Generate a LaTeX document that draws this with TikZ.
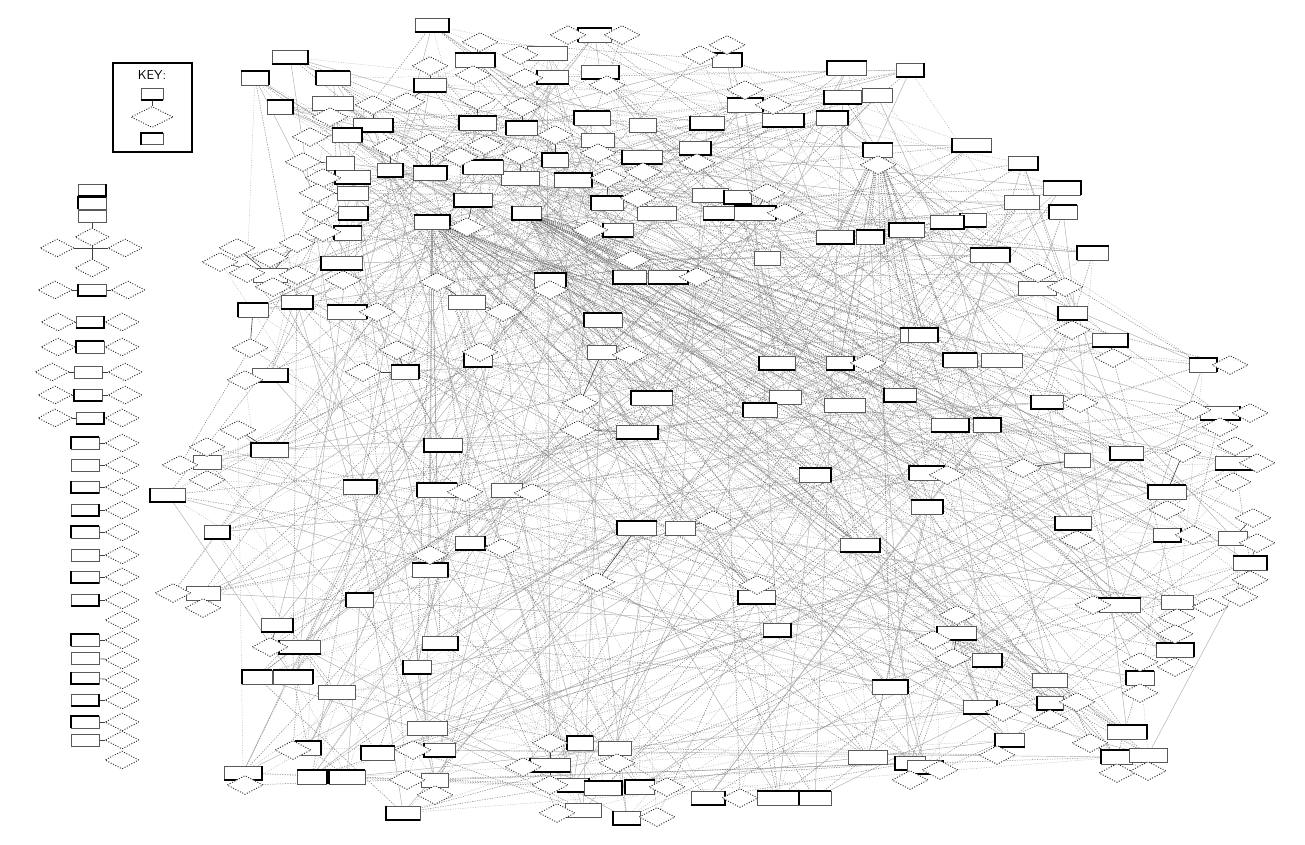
\documentclass[tikz,border=0pt]{standalone}
\usetikzlibrary{shapes.geometric}
\pgfdeclarelayer{bottom}
\pgfdeclarelayer{background}
\pgfsetlayers{bottom,background,main}
\begin{document}
\def\Blist{432/25, 475/60, 522/128, 520/178, 527/213, 290/57, 255/78, 333/78, 333/103, 430/85,
373/125, 347/135, 478/123, 340/163, 353/177, 390/170, 430/173, 483/167, 353/193, 473/200,
353/213, 432/222, 348/233, 270/275, 342/263, 297/302, 347/312, 253/310, 467/302, 478/360,
270/375, 280/107, 595/35, 547/53, 553/77, 600/72, 727/60, 592/118, 643/125, 707/123,
783/120, 832/118, 847/68, 877/95, 843/97, 910/70, 745/105, 555/160, 598/140, 642/157,
695/148, 573/180, 878/150, 710/195, 738/197, 720/213, 755/213, 607/203, 657/213, 618/230,
835/237, 870/237, 907/230, 767/258, 630/277, 668/277, 550/280, 603/320, 602/352, 777/363,
840/363, 917/335, 652/398, 785/397, 972/145, 1023/163, 1062/188, 1063/212, 1022/202, 973/220,
947/222, 990/255, 1093/253, 1037/288, 1073/313, 1110/340, 1203/365, 960/360, 1002/360, 1047/402,
1220/413, 923/335, 270/450, 207/462, 168/495, 217/532, 360/487, 437/490, 507/490, 443/445,
470/543, 430/570, 360/600, 203/593, 300/647, 277/625, 293/677, 257/677, 337/692, 417/667,
440/643, 308/748, 378/753, 427/728, 440/750, 243/773, 312/777, 347/777, 435/780, 403/813,
637/432, 815/475, 637/528, 680/528, 757/597, 777/630, 890/687, 580/743, 615/748, 550/765,
573/785, 603/788, 640/787, 583/810, 627/818, 708/798, 778/798, 815/798, 868/757, 910/763,
950/425, 987/425, 927/473, 1077/460, 1127/453, 1235/463, 927/507, 1167/492, 1233/538, 1073/523,
1167/535, 1250/563, 1120/605, 1177/602, 957/633, 987/660, 1175/650, 1140/678, 1050/680, 1050/703,
980/707, 1127/732, 1117/757, 1148/755, 1010/740, 925/767, 405/372, 760/410, 845/405, 900/395,
860/545}
\def\Dlist{480/42, 473/75, 477/100, 520/55, 525/78, 522/107, 520/155, 330/117, 373/105, 407/102,
430/66, 310/137, 390/147, 430/143, 460/157, 485/145, 303/162, 323/178, 317/193, 320/213,
467/227, 323/232, 237/248, 220/262, 270/258, 297/243, 297/275, 247/273, 273/287, 343/280,
377/312, 437/282, 503/312, 250/348, 397/350, 363/372, 245/380, 568/35, 622/35, 607/85,
727/45, 700/55, 745/90, 773/105, 555/135, 598/153, 643/172, 697/163, 608/178, 878/165,
767/193, 785/213, 638/198, 590/230, 632/260, 697/277, 550/290, 630/355, 868/363, 580/403,
1038/273, 1065/287, 1072/330, 1113/358, 1230/365, 1080/403, 1250/413, 1193/410, 238/430, 207/447,
180/465, 207/480, 465/492, 532/493, 502/548, 430/555, 173/593, 203/608, 270/647, 293/750,
413/750, 245/785, 407/780, 435/795, 523/767, 578/430, 713/520, 597/582, 757/585, 550/743,
617/763, 667/787, 550/785, 657/817, 557/813, 740/798, 910/780, 1220/427, 947/475, 1023/468,
1183/453, 1235/446, 1257/463, 1233/482, 1167/510, 1253/518, 1257/543, 1077/540, 1193/535, 1250/580,
1240/597, 1093/605, 1177/618, 1210/607, 957/615, 933/640, 953/658, 1175/634, 1175/667, 1140/662,
1140/693, 1077/702, 1050/719, 1003/712, 1090/743, 1117/773, 1148/771, 997/755, 940/770, 480/352}
\begin{tikzpicture}[x=1pt,y=-1pt,
  bx/.style={rectangle,draw=black!65,line width=0.6pt,fill=white,inner sep=0pt,minimum height=14pt,minimum width=30pt},
  dia/.style={diamond,draw=black!85,line width=0.9pt,dash pattern=on 1pt off 1.6pt,fill=white,inner sep=0pt,minimum width=36pt,minimum height=19pt},
  ldia/.style={dia,minimum width=34pt,minimum height=18pt},
  heavy/.style={draw=black,line width=2.2pt,line join=miter},
  conn/.style={draw=black!50,line width=0.5pt,dash pattern=on 1.2pt off 1.3pt},
  faint/.style={draw=black!30,line width=0.45pt,dash pattern=on 1pt off 1.5pt},
  longln/.style={draw=black!32,line width=0.45pt},
  link/.style={draw=black!75,line width=0.6pt},
  hubln/.style={draw=black!55,line width=0.5pt,dash pattern=on 1pt off 1pt}]
\path[use as bounding box] (0,0) rectangle (1305,845);
\begin{pgfonlayer}{bottom}
\fill[white] (0,0) rectangle (1305,845);
\end{pgfonlayer}

% ---------- key ----------
\node[draw=black,line width=1.6pt,minimum width=79pt,minimum height=89pt,inner sep=0pt] (keyframe) at (152.5,107.5) {};
\node[font=\sffamily\fontsize{13}{13}\selectfont,inner sep=0pt] (keytitle) at (152,75) {KEY:};
\node[bx,minimum width=22pt,minimum height=11pt] (keybox) at (152,94) {};
\node[dia,minimum width=42pt,minimum height=21pt] (keydia) at (152,117) {};
\node[bx,minimum width=22pt,minimum height=11pt] (keyrec) at (152,139) {};
\draw[heavy,line width=1.6pt] (keybox.south west) -- (keybox.south east);
\draw[heavy,line width=1.6pt] (keyrec.south west) -- (keyrec.north west) -- (keyrec.north east);
\begin{pgfonlayer}{background}
\draw[link] (keybox) -- (keydia);
\end{pgfonlayer}

% ---------- legend column ----------
\foreach [count=\i] \x/\y in {92/237, 57/248, 125/248, 92/268, 55/290, 128/290, 58/322, 122/322,
  58/347, 122/347, 52/372, 125/372, 55/395, 125/395, 55/418, 122/418, 122/443, 122/465, 122/487,
  122/510, 122/532, 122/555, 122/577, 122/600, 122/620, 122/640, 122/660, 122/680, 122/700,
  122/722, 122/740, 122/760}
  \node[ldia] (ld\i) at (\x,\y) {};
\foreach [count=\i] \x/\y in {92/190, 92/203, 92/216, 92/290, 90/322, 90/347, 88/372, 88/395,
  90/418, 85/443, 85/465, 85/487, 85/510, 85/532, 85/555, 85/577, 85/600, 85/640, 85/658,
  85/678, 85/700, 85/722, 85/740}
  {\node[bx,minimum width=28pt,minimum height=12pt] (lb\i) at (\x,\y) {};
   \pgfmathtruncatemacro\k{mod(\i,4)}
   \ifcase\k \draw[heavy,line width=1.8pt] (lb\i.north west) -- (lb\i.south west) -- (lb\i.south east);
   \or \draw[heavy,line width=1.8pt] (lb\i.south west) -- (lb\i.south east) -- (lb\i.north east);
   \or \draw[heavy,line width=1.8pt] (lb\i.south west) -- (lb\i.north west) -- (lb\i.north east);
   \or \fi}
\begin{pgfonlayer}{background}
\foreach \a/\b in {lb1/lb2, lb2/lb3, lb3/ld1, ld1/ld4, ld2/ld3, ld5/lb4, lb4/ld6, ld7/lb5, lb5/ld8,
  ld9/lb6, lb6/ld10, ld11/lb7, lb7/ld12, ld13/lb8, lb8/ld14, ld15/lb9, lb9/ld16, lb10/ld17,
  lb11/ld18, lb12/ld19, lb13/ld20, lb14/ld21, lb15/ld22, lb16/ld23, lb17/ld24, lb18/ld26,
  lb19/ld27, lb20/ld28, lb21/ld29, lb22/ld30, lb23/ld31}
  \draw[link] (\a) -- (\b);
\end{pgfonlayer}

% ---------- main nodes ----------
\foreach [count=\n] \x/\y in \Blist {\xdef\NB{\n}}
\foreach [count=\n] \x/\y in \Dlist {\xdef\ND{\n}}
\foreach [count=\i] \x/\y in \Blist {
  \pgfmathtruncatemacro\w{26+mod(\i*7,16)}
  \node[bx,minimum width=\w pt] (b\i) at (\x,\y) {};
  \pgfmathtruncatemacro\k{mod(\i,5)}
  \ifcase\k \draw[heavy] (b\i.north west) -- (b\i.south west) -- (b\i.south east);
  \or \draw[heavy] (b\i.south west) -- (b\i.south east) -- (b\i.north east);
  \or \draw[heavy] (b\i.north west) -- (b\i.north east) -- (b\i.south east);
  \or \draw[heavy] (b\i.south west) -- (b\i.north west) -- (b\i.north east);
  \or \fi
}
\foreach [count=\i] \x/\y in \Dlist {\node[dia] (d\i) at (\x,\y) {};}

% ---------- connectors ----------
\begin{pgfonlayer}{background}
\foreach \i in {1,...,\NB} {
  \pgfmathtruncatemacro\j{mod(\i*37+11,\NB)+1}
  \ifnum\i=\j\else\draw[longln] (b\i) -- (b\j);\fi
}
\foreach \i in {1,...,\NB} {
  \pgfmathtruncatemacro\j{mod(\i+3+mod(\i*7,17),\NB)+1}
  \ifnum\i=\j\else\draw[conn] (b\i) -- (b\j);\fi
}
\foreach \i in {1,...,\NB} {
  \pgfmathtruncatemacro\j{mod(\i+20+mod(\i*13,29),\NB)+1}
  \ifnum\i=\j\else\draw[faint] (b\i) -- (b\j);\fi
}
\foreach \i in {1,...,\ND} {
  \pgfmathtruncatemacro\j{mod(\i*29+7,\NB)+1}
  \draw[conn] (d\i) -- (b\j);
}
\foreach \i in {1,...,\ND} {
  \pgfmathtruncatemacro\j{mod(\i*11+40,\NB)+1}
  \draw[faint] (d\i) -- (b\j);
}
\foreach \j in {97,98,99,101,102,110,111,114,121,123,124,125,126,73,74,70,71,168,169,170,141,142,143,147,155,122,171,127}
  \draw[hubln] (b22) -- (b\j);
\foreach \j in {60,65,66,69,73,74,70,71,168,169,170,72,92,88,89,90,141,142,144,145,150,122,124,125,171,143,147,148,151}
  \draw[hubln] (b5) -- (b\j);
\foreach \j in {42,45,61,62,63,70,71,72,74,80,81,88,92,169,170,141,142,143,127}
  \draw[hubln] (b53) -- (b\j);
\foreach [count=\i] \x/\y in \Dlist {
  \gdef\bestd{9999pt}\gdef\bestj{1}
  \foreach [count=\j] \u/\v in \Blist {
    \dimen0=\x pt \advance\dimen0 by -\u pt
    \ifdim\dimen0<0pt \dimen0=-\dimen0 \fi
    \dimen2=\y pt \advance\dimen2 by -\v pt
    \ifdim\dimen2<0pt \dimen2=-\dimen2 \fi
    \advance\dimen0 by \dimen2
    \ifdim\dimen0<\bestd \xdef\bestd{\the\dimen0}\xdef\bestj{\j}\fi
  }
  \draw[link] (d\i) -- (b\bestj);
}
\end{pgfonlayer}
\end{tikzpicture}
\end{document}
